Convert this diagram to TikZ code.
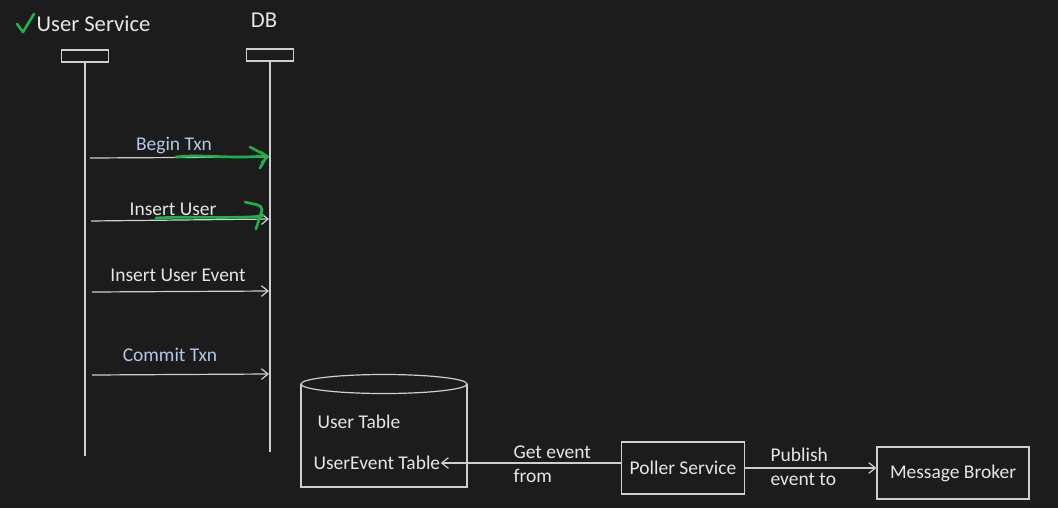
\documentclass[tikz,border=0pt]{standalone}
\usepackage{fontspec}
\setmainfont{Carlito}
\usetikzlibrary{arrows.meta,positioning}

\definecolor{bg}{HTML}{1C1C1C}
\definecolor{ink}{HTML}{E6E6E6}
\definecolor{edge}{HTML}{CFCFCF}
\definecolor{sky}{HTML}{B4C8E6}
\definecolor{pen}{HTML}{1FB04A}

\begin{document}
\begin{tikzpicture}[
	x = 0.75pt, y = -0.75pt, % one unit = one pixel of the reference
	> = {Straight Barb[length=5pt, width=8pt]},
	line width = 0.9pt,
	txt/.style={text=ink, inner sep=0pt, font=\fontsize{14.6}{18}\selectfont},
	head/.style={txt, font=\fontsize{17}{19}\selectfont},
	life/.style={draw=edge, minimum width=35pt, minimum height=9pt, inner sep=0pt},
	box/.style={draw=edge, txt, minimum height=39pt},
	msg/.style={draw=edge, ->},
	ink/.style={draw=pen, line width=2pt, line cap=round, line join=round},
	]
	\fill[bg] (0,0) rectangle (1058,508);
	\useasboundingbox (0,0) rectangle (1058,508);

	% Lifelines
	\node[head, anchor=west] (us) at (36,24) {User Service};
	\node[head] (db) at (264,20) {DB};
	\node[life] (usHead) at (85,56) {};
	\node[life] (dbHead) at (270,55) {};
	\coordinate (usEnd) at (85,456);
	\coordinate (dbEnd) at (270,452);
	\draw[edge] (usHead.south) -- (usEnd);
	\draw[edge] (dbHead.south) -- (dbEnd);

	% Messages
	\coordinate (m1a) at (90,158);  \coordinate (m1b) at (269,157);
	\coordinate (m2a) at (91,221);  \coordinate (m2b) at (269,219);
	\coordinate (m3a) at (92,292);  \coordinate (m3b) at (269,291);
	\coordinate (m4a) at (92,375);  \coordinate (m4b) at (269,374);
	\draw[msg] (m1a) -- (m1b);
	\draw[msg] (m2a) -- (m2b);
	\draw[msg] (m3a) -- (m3b);
	\draw[msg] (m4a) -- (m4b);
	\node[txt, text=sky] (beginTxn) at (174,145) {Begin Txn};
	\node[txt] (insUser) at (173,209) {Insert User};
	\node[txt] (insEvent) at (178,275) {Insert User Event};
	\node[txt, text=sky] (commitTxn) at (170,355) {Commit Txn};

	% Database
	\draw[edge] (301,384) -- (301,487) -- (467,487) -- (467,384);
	\draw[edge] (384,384) ellipse [x radius=83, y radius=9.5];
	\node[txt, anchor=west] (userTab) at (317,422) {User Table};
	\node[txt, anchor=west] (eventTab) at (313,463) {UserEvent Table};

	% Poller and broker
	\node[box, minimum width=92pt] (poller) at (683,468) {Poller Service};
	\node[box, minimum width=114pt] (broker) at (953,473) {Message Broker};
	\draw[msg] (poller.west |- eventTab.east) -- (eventTab.east);
	\draw[msg] (poller.east) -- (broker.west |- poller.east);
	\node[txt, anchor=west, align=left] (getFrom) at (513,464) {Get event\\from};
	\node[txt, anchor=west, align=left] (publishTo) at (770,467) {Publish\\event to};

	% Green pen marks
	\draw[ink] (17,24) -- (23,32) -- (34,14);
	\draw[ink] (176,157) .. controls (200,154) and (230,159) .. (264,156);
	\draw[ink] (250,147) -- (267,156) -- (260,168);
	\draw[ink] (156,218) .. controls (190,216) and (230,219) .. (263,216);
	\draw[ink] (245,202) .. controls (256,205) and (262,204) .. (262,210) -- (256,229);
\end{tikzpicture}
\end{document}
